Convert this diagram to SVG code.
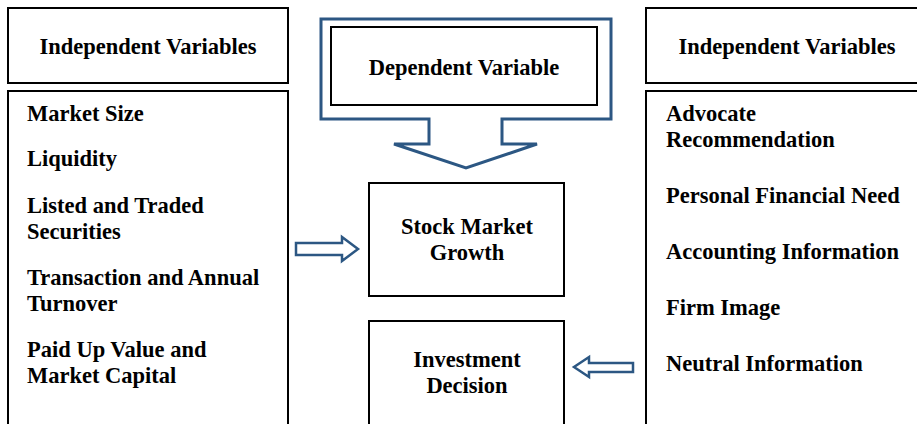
<svg xmlns="http://www.w3.org/2000/svg" width="917" height="424" viewBox="0 0 917 424">
<style>
.box{fill:#fff;stroke:#000;stroke-width:2}
.blue{fill:#fff;stroke:#2c5783;stroke-width:3;stroke-linejoin:miter}
.barrow{fill:#fff;stroke:#2c5783;stroke-width:2.5;stroke-linejoin:miter}
text{font-family:"Liberation Serif","Times New Roman",serif;font-weight:bold;font-size:22.5px;fill:#000}
.c{text-anchor:middle}
</style>
<rect width="917" height="424" fill="#fff"/>
<g id="iv-left-header">
<rect class="box" x="8" y="8" width="280" height="75"/>
<text class="c" x="148" y="54">Independent Variables</text>
</g>
<g id="iv-left">
<rect class="box" x="8" y="91" width="280" height="345"/>
<text x="27" y="121">Market Size</text>
<text x="27" y="166">Liquidity</text>
<text x="27" y="213">Listed and Traded</text>
<text x="27" y="239">Securities</text>
<text x="27" y="285">Transaction and Annual</text>
<text x="27" y="311">Turnover</text>
<text x="27" y="357">Paid Up Value and</text>
<text x="27" y="383">Market Capital</text>
</g>
<g id="dependent">
<path class="blue" d="M321,19 H611 V119 H502 V144 H537 L466,168 L394,144 H429 V119 H321 Z"/>
<rect class="box" x="331" y="27" width="266" height="78"/>
<text class="c" x="464" y="75">Dependent Variable</text>
</g>
<g id="stock-market-growth">
<rect class="box" x="369" y="183" width="195" height="113"/>
<text class="c" x="467" y="234">Stock Market</text>
<text class="c" x="467" y="260">Growth</text>
</g>
<g id="investment-decision">
<rect class="box" x="369" y="321" width="195" height="115"/>
<text class="c" x="467" y="367">Investment</text>
<text class="c" x="467" y="393">Decision</text>
</g>
<g id="iv-right-header">
<rect class="box" x="646" y="8" width="280" height="75"/>
<text class="c" x="787" y="54">Independent Variables</text>
</g>
<g id="iv-right">
<rect class="box" x="646" y="91" width="280" height="345"/>
<text x="666" y="121">Advocate</text>
<text x="666" y="147">Recommendation</text>
<text x="666" y="203">Personal Financial Need</text>
<text x="666" y="259">Accounting Information</text>
<text x="666" y="315">Firm Image</text>
<text x="666" y="371">Neutral Information</text>
</g>
<g id="connectors">
<path class="barrow" d="M296,243 H342 V237 L358,249 L342,261 V255 H296 Z"/>
<path class="barrow" d="M633,363 H589 V357 L574,367 L589,377 V372 H633 Z"/>
</g>
</svg>
